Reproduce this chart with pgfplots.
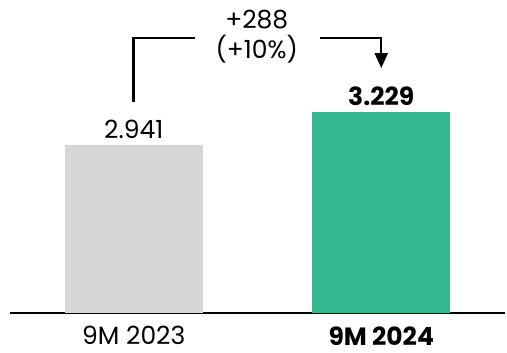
\documentclass[border=0pt]{standalone}
\usepackage{fontspec}
\setmainfont{Poppins}
\usepackage{pgfplots}
\pgfplotsset{compat=1.18}
\usetikzlibrary{arrows.meta}
\definecolor{gbar}{HTML}{D5D6D8}
\definecolor{tbar}{HTML}{35B88F}
\begin{document}
\begin{tikzpicture}
\useasboundingbox (0,0) rectangle (507pt,353pt);
\begin{axis}[
  at={(10pt,40pt)}, anchor=south west,
  scale only axis, width=495pt, height=303pt,
  xmin=-0.5, xmax=1.5, ymin=1471, ymax=4122,
  axis y line=none, axis x line=bottom,
  x axis line style={-, line width=2pt},
  xtick={0,1}, xticklabels={9M 2023,\textbf{9M 2024}},
  major tick length=0pt,
  xticklabel style={font=\fontsize{25}{30}\selectfont, yshift=-10pt},
  ybar, bar width=138pt, bar shift=0pt,
  clip=false,
  nodes near coords, point meta=explicit symbolic,
  nodes near coords style={font=\fontsize{25}{30}\selectfont, text=black, yshift=3pt},
]
\addplot[fill=gbar, draw=none] coordinates {(0,2941) [2.941]};
\addplot[fill=tbar, draw=none] coordinates {(1,3229) [\textbf{3.229}]};
\draw[line width=2.5pt] (axis cs:0,3317) |- (axis cs:0.246,3877);
\draw[line width=2.5pt, -{Triangle[width=13pt,length=15pt]}] (axis cs:0.752,3877) -| (axis cs:1,3614);
\node[align=center, font=\fontsize{25}{30}\selectfont] at (axis cs:0.497,3886) {+288\\(+10\%)};
\end{axis}
\end{tikzpicture}
\end{document}
